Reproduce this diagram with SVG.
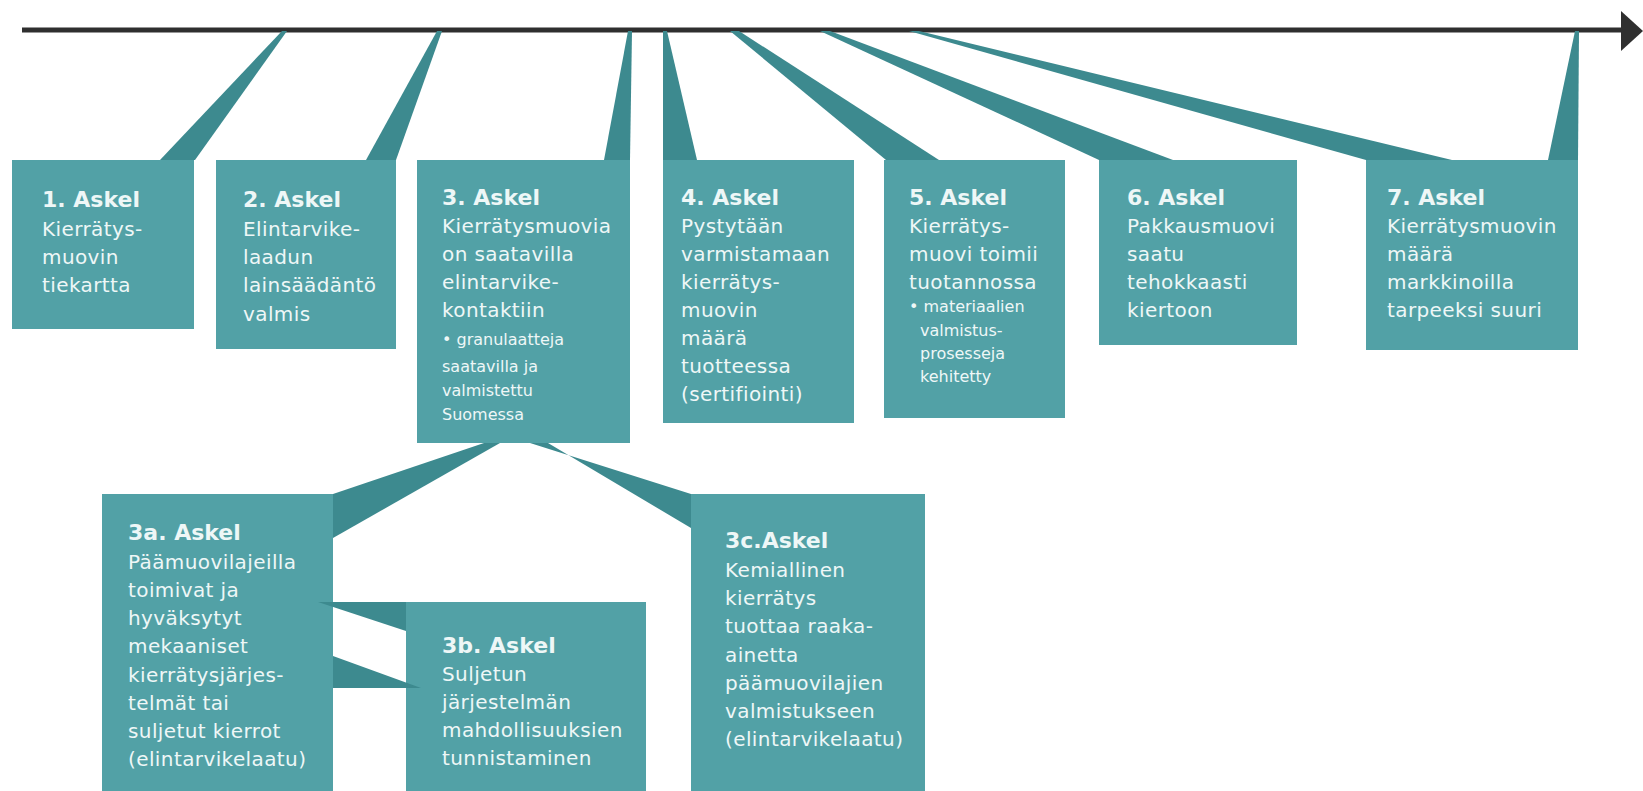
<svg xmlns="http://www.w3.org/2000/svg" width="1643" height="791" viewBox="0 0 1643 791">
<style>
.box{fill:#52a1a6}
.wedge{fill:#3d8a8f}
.t{font-family:"DejaVu Sans","Liberation Sans",sans-serif;fill:#eef7f7}
.h{font-size:22px;font-weight:bold}
.b{font-size:20px;letter-spacing:0.4px}
.s{font-size:16px}
</style>
<rect width="1643" height="791" fill="#ffffff"/>
<g id="timeline">
<line x1="22" y1="30" x2="1624" y2="30" stroke="#2f2f2f" stroke-width="5"/>
<polygon points="1621,11 1643,31 1621,51" fill="#2f2f2f"/>
</g>
<g id="nodes">
<g id="step1"><rect class="box" x="12" y="160" width="182" height="169"/>
<text class="t h" x="42" y="207">1. Askel</text>
<text class="t b" x="42" y="236">Kierrätys-</text>
<text class="t b" x="42" y="264">muovin</text>
<text class="t b" x="42" y="292">tiekartta</text></g>
<g id="step2"><rect class="box" x="216" y="160" width="180" height="189"/>
<text class="t h" x="243" y="207">2. Askel</text>
<text class="t b" x="243" y="236">Elintarvike-</text>
<text class="t b" x="243" y="264">laadun</text>
<text class="t b" x="243" y="292">lainsäädäntö</text>
<text class="t b" x="243" y="321">valmis</text></g>
<g id="step3"><rect class="box" x="417" y="160" width="213" height="283"/>
<text class="t h" x="442" y="205">3. Askel</text>
<text class="t b" x="442" y="233">Kierrätysmuovia</text>
<text class="t b" x="442" y="261">on saatavilla</text>
<text class="t b" x="442" y="289">elintarvike-</text>
<text class="t b" x="442" y="317">kontaktiin</text>
<text class="t s" x="442" y="345">• granulaatteja</text>
<text class="t s" x="442" y="372">saatavilla ja</text>
<text class="t s" x="442" y="396">valmistettu</text>
<text class="t s" x="442" y="420">Suomessa</text></g>
<g id="step4"><rect class="box" x="663" y="160" width="191" height="263"/>
<text class="t h" x="681" y="205">4. Askel</text>
<text class="t b" x="681" y="233">Pystytään</text>
<text class="t b" x="681" y="261">varmistamaan</text>
<text class="t b" x="681" y="289">kierrätys-</text>
<text class="t b" x="681" y="317">muovin</text>
<text class="t b" x="681" y="345">määrä</text>
<text class="t b" x="681" y="373">tuotteessa</text>
<text class="t b" x="681" y="401">(sertifiointi)</text></g>
<g id="step5"><rect class="box" x="884" y="160" width="181" height="258"/>
<text class="t h" x="909" y="205">5. Askel</text>
<text class="t b" x="909" y="233">Kierrätys-</text>
<text class="t b" x="909" y="261">muovi toimii</text>
<text class="t b" x="909" y="289">tuotannossa</text>
<text class="t s" x="909" y="312">• materiaalien</text>
<text class="t s" x="920" y="336">valmistus-</text>
<text class="t s" x="920" y="359">prosesseja</text>
<text class="t s" x="920" y="382">kehitetty</text></g>
<g id="step6"><rect class="box" x="1099" y="160" width="198" height="185"/>
<text class="t h" x="1127" y="205">6. Askel</text>
<text class="t b" x="1127" y="233">Pakkausmuovi</text>
<text class="t b" x="1127" y="261">saatu</text>
<text class="t b" x="1127" y="289">tehokkaasti</text>
<text class="t b" x="1127" y="317">kiertoon</text></g>
<g id="step7"><rect class="box" x="1366" y="160" width="212" height="190"/>
<text class="t h" x="1387" y="205">7. Askel</text>
<text class="t b" x="1387" y="233">Kierrätysmuovin</text>
<text class="t b" x="1387" y="261">määrä</text>
<text class="t b" x="1387" y="289">markkinoilla</text>
<text class="t b" x="1387" y="317">tarpeeksi suuri</text></g>
<g id="step3a"><rect class="box" x="102" y="494" width="231" height="310"/>
<text class="t h" x="128" y="540">3a. Askel</text>
<text class="t b" x="128" y="569">Päämuovilajeilla</text>
<text class="t b" x="128" y="597">toimivat ja</text>
<text class="t b" x="128" y="625">hyväksytyt</text>
<text class="t b" x="128" y="653">mekaaniset</text>
<text class="t b" x="128" y="682">kierrätysjärjes-</text>
<text class="t b" x="128" y="710">telmät tai</text>
<text class="t b" x="128" y="738">suljetut kierrot</text>
<text class="t b" x="128" y="766">(elintarvikelaatu)</text></g>
<g id="step3b"><rect class="box" x="406" y="602" width="240" height="200"/>
<text class="t h" x="442" y="653">3b. Askel</text>
<text class="t b" x="442" y="681">Suljetun</text>
<text class="t b" x="442" y="709">järjestelmän</text>
<text class="t b" x="442" y="737">mahdollisuuksien</text>
<text class="t b" x="442" y="765">tunnistaminen</text></g>
<g id="step3c"><rect class="box" x="691" y="494" width="234" height="310"/>
<text class="t h" x="725" y="548">3c.Askel</text>
<text class="t b" x="725" y="577">Kemiallinen</text>
<text class="t b" x="725" y="605">kierrätys</text>
<text class="t b" x="725" y="633">tuottaa raaka-</text>
<text class="t b" x="725" y="662">ainetta</text>
<text class="t b" x="725" y="690">päämuovilajien</text>
<text class="t b" x="725" y="718">valmistukseen</text>
<text class="t b" x="725" y="746">(elintarvikelaatu)</text></g>
</g>
<g id="connectors">
<polygon class="wedge" points="282,31 287,31 195,160 160,160"/>
<polygon class="wedge" points="437,31 442,31 396,160 366,160"/>
<polygon class="wedge" points="628,31 632,31 630,160 604,160"/>
<polygon class="wedge" points="663,31 667,31 697,160 663,160"/>
<polygon class="wedge" points="730,31 739,31 939,160 886,160"/>
<polygon class="wedge" points="820,31 830,31 1173,160 1099,160"/>
<polygon class="wedge" points="909,31 919,31 1452,160 1366,160"/>
<polygon class="wedge" points="1575,31 1579,31 1578,160 1548,160"/>
<polygon class="wedge" points="484,443 500,443 333,538 333,494"/>
<polygon class="wedge" points="530,443 548,443 691,528 691,494"/>
<polygon class="wedge" points="318,602 406,602 406,631"/>
<polygon class="wedge" points="333,656 421,688 333,688"/>
</g>
</svg>
